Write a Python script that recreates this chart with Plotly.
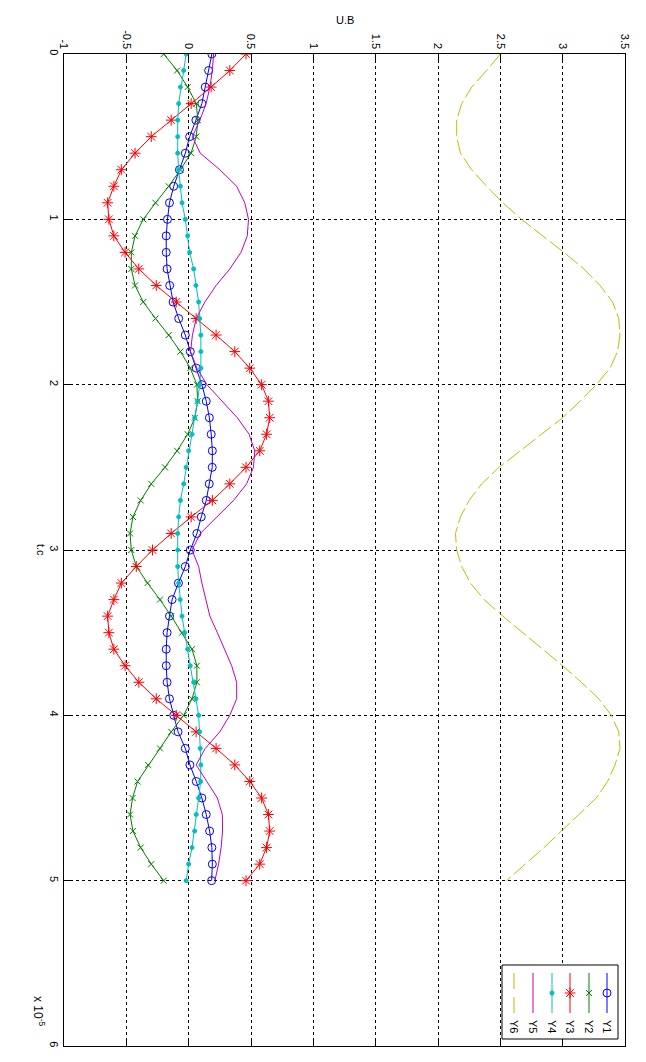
import plotly.graph_objects as go

t = [i / 10 for i in range(51)]  # t.c  (x 1e-5)

Y1 = [0.186, 0.16, 0.133, 0.106, 0.058, 0.008, -0.027, -0.074, -0.12, -0.154,
      -0.17, -0.18, -0.18, -0.173, -0.152, -0.125, -0.08, -0.027, 0.013, 0.061,
      0.106, 0.141, 0.166, 0.181, 0.19, 0.189, 0.165, 0.141, 0.101, 0.066,
      0.013, -0.027, -0.082, -0.133, -0.154, -0.173, -0.18, -0.18, -0.173, -0.154,
      -0.12, -0.085, -0.027, 0.01, 0.061, 0.106, 0.141, 0.168, 0.186, 0.19, 0.184]
Y2 = [-0.20, -0.093, -0.008, 0.061, 0.074, 0.061, 0.019, -0.066, -0.16, -0.266,
      -0.364, -0.43, -0.46, -0.46, -0.43, -0.364, -0.266, -0.16, -0.066, 0.013,
      0.066, 0.072, 0.05, -0.008, -0.093, -0.19, -0.30, -0.385, -0.447, -0.47,
      -0.46, -0.42, -0.33, -0.23, -0.14, -0.053, 0.027, 0.066, 0.066, 0.027,
      -0.04, -0.14, -0.23, -0.325, -0.41, -0.45, -0.47, -0.447, -0.385, -0.30, -0.20]
Y3 = [0.46, 0.33, 0.18, 0.02, -0.14, -0.30, -0.43, -0.54, -0.60, -0.65,
      -0.64, -0.60, -0.51, -0.40, -0.26, -0.10, 0.06, 0.22, 0.37, 0.49,
      0.585, 0.64, 0.65, 0.625, 0.57, 0.46, 0.33, 0.19, 0.02, -0.14,
      -0.29, -0.42, -0.54, -0.60, -0.65, -0.64, -0.60, -0.51, -0.40, -0.26,
      -0.10, 0.06, 0.22, 0.37, 0.49, 0.585, 0.64, 0.65, 0.625, 0.57, 0.46]
Y4 = [-0.02, -0.04, -0.066, -0.08, -0.088, -0.088, -0.088, -0.08, -0.066, -0.053,
      -0.027, -0.008, 0.008, 0.04, 0.058, 0.08, 0.088, 0.098, 0.098, 0.098,
      0.088, 0.072, 0.048, 0.027, 0.0, -0.02, -0.04, -0.066, -0.08, -0.088,
      -0.088, -0.088, -0.08, -0.068, -0.053, -0.032, -0.008, 0.013, 0.04, 0.058,
      0.08, 0.088, 0.093, 0.098, 0.096, 0.08, 0.061, 0.048, 0.027, 0.0, -0.02]
Y5 = [0.20, 0.19, 0.17, 0.14, 0.09, 0.03, 0.093, 0.25, 0.385, 0.45,
      0.48, 0.47, 0.42, 0.33, 0.22, 0.13, 0.06, 0.03, 0.015, 0.066,
      0.146, 0.27, 0.39, 0.485, 0.53, 0.52, 0.465, 0.36, 0.23, 0.093,
      0.027, 0.08, 0.106, 0.14, 0.17, 0.23, 0.29, 0.345, 0.385, 0.385,
      0.33, 0.25, 0.133, 0.06, 0.146, 0.23, 0.27, 0.272, 0.26, 0.24, 0.21]
Y6 = [2.50, 2.39, 2.27, 2.19, 2.15, 2.15, 2.18, 2.27, 2.39, 2.52,
      2.67, 2.84, 3.01, 3.17, 3.30, 3.40, 3.45, 3.46, 3.44, 3.38,
      3.27, 3.14, 3.00, 2.83, 2.66, 2.49, 2.35, 2.25, 2.18, 2.14,
      2.15, 2.19, 2.26, 2.37, 2.52, 2.68, 2.84, 3.00, 3.15, 3.29,
      3.39, 3.45, 3.46, 3.42, 3.36, 3.27, 3.13, 2.99, 2.85, 2.70, 2.55]

names = ["Y1", "Y2", "Y3", "Y4", "Y5", "Y6"]
colors = ["#0000ff", "#008000", "#ff0000", "#00bfbf", "#bf00bf", "#bfbf00"]
symbols = ["circle-open", "x-thin-open", "asterisk-open", "circle", None, None]
msizes = [8, 6, 9, 4, 0, 0]
dashes = ["solid", "solid", "solid", "solid", "solid", "16px,4px"]
series = [Y1, Y2, Y3, Y4, Y5, Y6]

x_ticks = [-1, -0.5, 0, 0.5, 1, 1.5, 2, 2.5, 3, 3.5]
x_ticktext = ["-1", "-0.5", "0", "0.5", "1", "1.5", "2", "2.5", "3", "3.5"]
y_ticks = [0, 1, 2, 3, 4, 5, 6]

# page has an 8px body margin: size the figure so it fits the 646x1062 window
OFF = 8
W, H = 646 - 2 * OFF, 1062 - 2 * OFF
# plot-area frame in page pixels
PL, PR, PT, PB = 64, 625, 54, 1046
L, R, T, B = PL - OFF, PR - OFF, PT - OFF, PB - OFF

fig = go.Figure()
for name, ys, c, s, ms, d in zip(names, series, colors, symbols, msizes, dashes):
    mode = "lines+markers" if s else "lines"
    marker = dict(symbol=s, size=ms, color=c, line=dict(color=c, width=1)) if s else None
    fig.add_trace(go.Scatter(x=ys, y=t, mode=mode, name=name,
                             line=dict(color=c, width=1, dash=d),
                             marker=marker, showlegend=False, hoverinfo="skip"))

# ---- manual rotated legend on an overlay axis (0..1 = plot area) ----
def fx(px):  # page px -> fraction of plot area
    return (px - PL) / (PR - PL)

def fy(py):
    return (PB - py) / (PB - PT)

bx0, bx1, by0, by1 = 502, 618, 965, 1039
fig.add_trace(go.Scatter(x=[fx(bx0), fx(bx1), fx(bx1), fx(bx0), fx(bx0)],
                         y=[fy(by0), fy(by0), fy(by1), fy(by1), fy(by0)],
                         mode="lines", fill="toself", fillcolor="white",
                         line=dict(color="black", width=1),
                         xaxis="x2", yaxis="y2", showlegend=False, hoverinfo="skip"))
leg_x = {"Y6": 514, "Y5": 533, "Y4": 552, "Y3": 570, "Y2": 589, "Y1": 607}
for name, c, s, ms, d in zip(names, colors, symbols, msizes, dashes):
    lx = fx(leg_x[name])
    fig.add_trace(go.Scatter(x=[lx, lx], y=[fy(973), fy(1013)], mode="lines",
                             line=dict(color=c, width=1, dash="16px,8px" if d != "solid" else "solid"),
                             xaxis="x2", yaxis="y2", showlegend=False, hoverinfo="skip"))
    if s:
        fig.add_trace(go.Scatter(x=[lx], y=[fy(993)], mode="markers",
                                 marker=dict(symbol=s, size=ms, color=c, line=dict(color=c, width=1)),
                                 xaxis="x2", yaxis="y2", showlegend=False, hoverinfo="skip"))
    fig.add_annotation(x=lx, y=fy(1026), xref="x2", yref="y2", text=name,
                       textangle=90, showarrow=False,
                       font=dict(size=11, color="black"))

font = dict(family="Liberation Sans, Arial, sans-serif", size=11, color="black")

fig.update_layout(
    width=W, height=H,
    margin=dict(l=L, r=W - R, t=T, b=H - B, autoexpand=False),
    paper_bgcolor="white", plot_bgcolor="white",
    font=font,
    showlegend=False,
    xaxis=dict(range=[-1, 3.5], side="top", tickvals=x_ticks, ticktext=x_ticktext,
               tickangle=90, showgrid=True, gridcolor="black", griddash="3px,3px",
               gridwidth=1, zeroline=False, showline=True, linecolor="black",
               linewidth=1, mirror="allticks", ticks="inside", ticklen=6,
               tickcolor="black", tickfont=font, automargin=False),
    yaxis=dict(range=[6, 0], tickvals=y_ticks, tickangle=90, showgrid=True,
               gridcolor="black", griddash="3px,3px", gridwidth=1, zeroline=False,
               showline=True, linecolor="black", linewidth=1, mirror="allticks",
               ticks="inside", ticklen=6, tickcolor="black", tickfont=font,
               automargin=False),
    xaxis2=dict(range=[0, 1], overlaying="x", visible=False, anchor="y2",
                automargin=False),
    yaxis2=dict(range=[0, 1], overlaying="y", visible=False, anchor="x2",
                automargin=False),
)

fig.add_annotation(text="U.B", x=0.5, y=1 + (PT - 12) / (PB - PT), xref="paper", yref="paper",
                   showarrow=False, font=dict(size=11, color="black"))
fig.add_annotation(text="t.c", x=-(PL - 33) / (PR - PL), y=0.5, xref="paper", yref="paper",
                   textangle=90, showarrow=False, font=dict(size=11, color="black"))
fig.add_annotation(text="x 10<sup>-5</sup>", x=-(PL - 29) / (PR - PL), y=-(1028 - PB) / (PB - PT),
                   xref="paper", yref="paper", textangle=90, showarrow=False,
                   font=dict(size=12, color="black"))

fig.write_html("out.html")
